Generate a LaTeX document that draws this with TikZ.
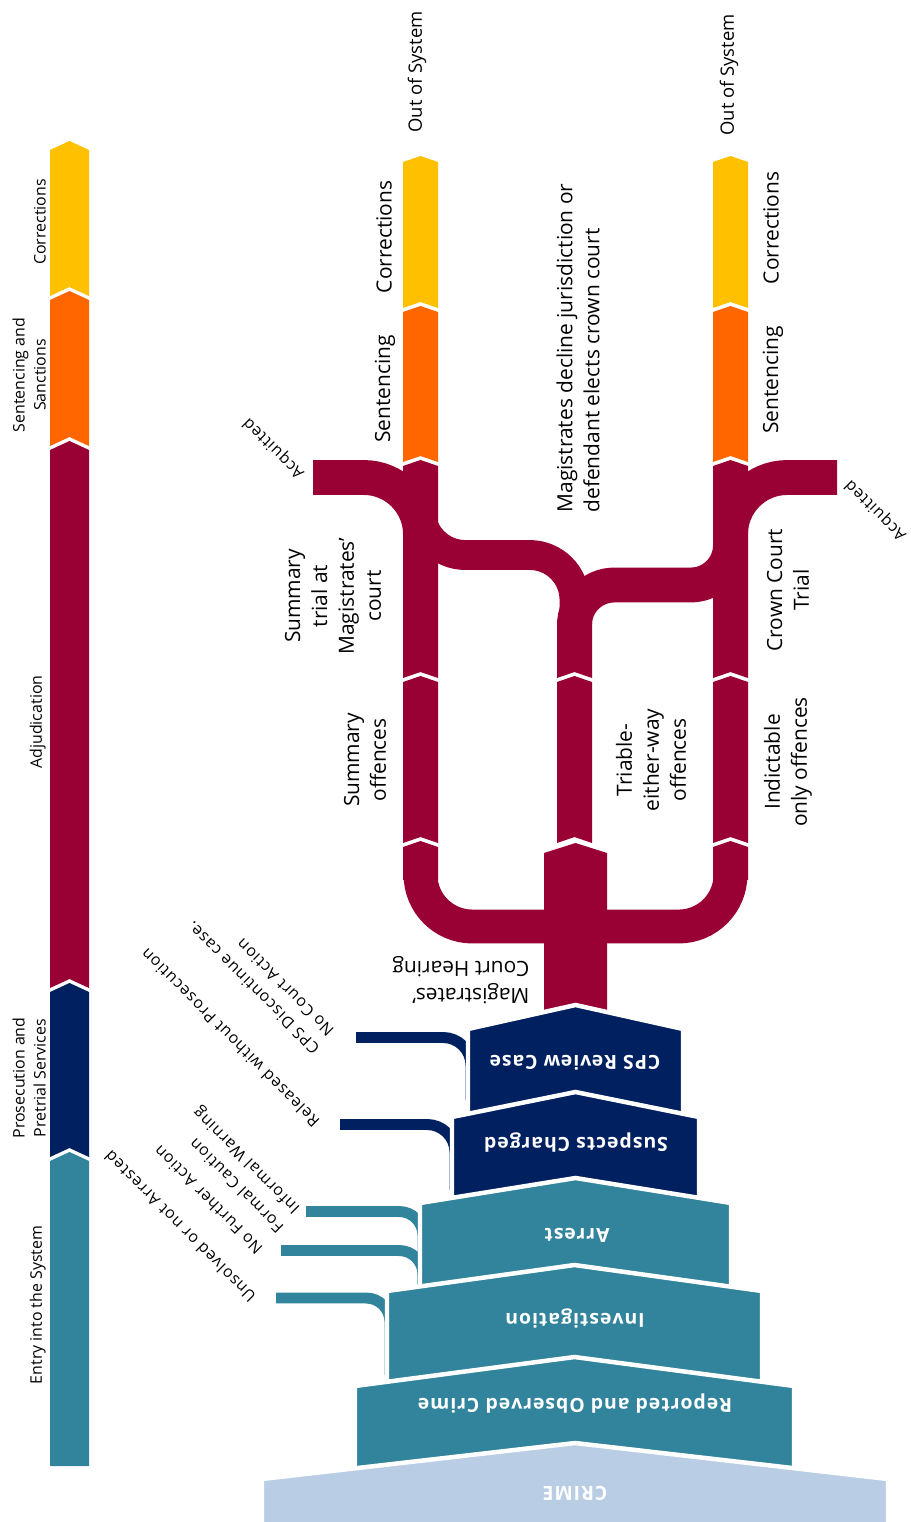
\documentclass[tikz,border=0pt]{standalone}
\usepackage{fontspec}
\setmainfont{Open Sans}
\newfontfamily\boxfont[LetterSpace=5]{Open Sans}
\newfontfamily\exitfont[LetterSpace=6]{Open Sans}

\definecolor{cjsteal}{HTML}{31849B}
\definecolor{cjsnavy}{HTML}{002060}
\definecolor{cjsmaroon}{HTML}{990033}
\definecolor{cjsorange}{HTML}{FF6600}
\definecolor{cjsyellow}{HTML}{FFC000}
\definecolor{cjscrime}{HTML}{B9CDE5}

% column piece: chevron top, notched bottom (colour, x1, x2, ytop, dtop, ybot, dbot)
\newcommand{\chevseg}[7]{%
  \fill[#1] (#2,#4) -- ({(#2+#3)/2},{#4-#5}) -- (#3,#4) -- (#3,#6)
    -- ({(#2+#3)/2},{#6-#7}) -- (#2,#6) -- cycle;}
% funnel stage with white rim (colour, x1, x2, ytop, depth, ybot)
\newcommand{\stage}[6]{%
  \filldraw[fill=#1,draw=white,line width=4.5] (#2,#4) -- ({(#2+#3)/2},{#4-#5})
    -- (#3,#4) -- (#3,#6) -- (#2,#6) -- cycle;}

\tikzset{
  phase/.style={rotate=90,anchor=south,align=center,inner sep=1,font=\fontsize{16}{21}\selectfont},
  flowlabel/.style={rotate=90,align=center,inner sep=0,font=\fontsize{21}{27}\selectfont},
  outsys/.style={rotate=90,inner sep=0,font=\fontsize{18.5}{22}\selectfont},
  exitlabel/.style={rotate=135,inner sep=0,font=\exitfont\fontsize{16}{20}\selectfont},
  stagetext/.style={rotate=180,text=white,inner sep=0,font=\boxfont\bfseries\fontsize{19.5}{22}\selectfont},
  exitbar/.style={line width=11,rounded corners=28},
  pipe/.style={cjsmaroon,line width=#1},
}

\begin{document}
\begin{tikzpicture}[x=1bp,y=-1bp]
\useasboundingbox (0,0) rectangle (910,1522);

% Phase bar on the left
\chevseg{cjsyellow}{50}{89}{150}{9}{296}{9}
\chevseg{cjsorange}{50}{89}{300}{9}{446}{9}
\chevseg{cjsmaroon}{50}{89}{450}{9}{988}{9}
\chevseg{cjsnavy}{50}{89}{992}{9}{1157}{9}
\chevseg{cjsteal}{50}{89}{1161}{9}{1466}{0}

% Corrections and sentencing columns
\chevseg{cjsyellow}{403}{438}{162}{6}{308}{6}
\chevseg{cjsorange}{403}{438}{312}{6}{462}{6}
\chevseg{cjsyellow}{713}{748}{162}{6}{308}{6}
\chevseg{cjsorange}{713}{748}{312}{6}{462}{6}

% Trials and acquittals
\coordinate (acqL) at (313,477.5);
\coordinate (acqR) at (837,477.5);
\coordinate (sumtrial) at (420.5,570);
\coordinate (crowntrial) at (730.5,570);
\draw[pipe=35,rounded corners=57] (acqL) -| (sumtrial);
\draw[pipe=35,rounded corners=57] (acqR) -| (crowntrial);
\chevseg{cjsmaroon}{403}{438}{466}{6}{678}{6}
\chevseg{cjsmaroon}{713}{748}{466}{6}{678}{6}

% Either-way split
\coordinate (splitL) at (420.5,495);
\coordinate (splitR) at (730.5,520);
\coordinate (eitherway) at (574.5,650);
\draw[pipe=30,rounded corners=45] (splitL) -- (420.5,555) -- (574.5,555) -- (eitherway);
\draw[pipe=35,rounded corners=40] (splitR) -- (730.5,585) -- (574.5,585) -- (eitherway);
\chevseg{cjsmaroon}{557}{592}{620}{0}{678}{6}

% Offence classes
\chevseg{cjsmaroon}{403}{438}{682}{6}{843}{6}
\chevseg{cjsmaroon}{557}{592}{682}{6}{843}{6}
\chevseg{cjsmaroon}{713}{748}{682}{6}{843}{6}

% Magistrates' court hearing
\chevseg{cjsmaroon}{403}{438}{847}{6}{880}{0}
\chevseg{cjsmaroon}{713}{748}{847}{6}{880}{0}
\coordinate (sumoff) at (420.5,860);
\coordinate (indoff) at (730.5,860);
\coordinate (hearing) at (575,926.5);
\draw[pipe=34,rounded corners=52] (sumoff) |- (hearing) -| (indoff);
\chevseg{cjsmaroon}{544}{607}{853}{10}{1020}{0}

% Funnel stages with their exits
\coordinate (nocourt) at (356,1037.5);
\coordinate (cpsjoin) at (471,1100);
\draw[exitbar,cjsnavy] (nocourt) -| (cpsjoin);
\stage{cjsnavy}{468}{683}{1029}{24}{1125}
\coordinate (released) at (340,1124.5);
\coordinate (chargedjoin) at (455,1190);
\draw[exitbar,cjsnavy] (released) -| (chargedjoin);
\stage{cjsnavy}{452}{699}{1117}{25}{1210}
\coordinate (warning) at (306,1211.5);
\coordinate (nfa) at (281,1250.5);
\coordinate (arrestjoin) at (423,1290);
\draw[exitbar,cjsteal,rounded corners=24] (warning) -| (arrestjoin);
\draw[exitbar,cjsteal,rounded corners=24] (nfa) -| (arrestjoin);
\stage{cjsteal}{420}{731}{1203}{25}{1300}
\coordinate (unsolved) at (276,1298);
\coordinate (investjoin) at (390,1375);
\draw[exitbar,cjsteal,rounded corners=24] (unsolved) -| (investjoin);
\stage{cjsteal}{387}{762}{1291}{26}{1395}
\stage{cjsteal}{355}{794}{1386}{29}{1490}
\stage{cjscrime}{262}{888}{1479}{36}{1535}

% Phase names
\node[phase] (phcorr) at (47,222) {Corrections};
\node[phase] (phsent) at (47,375) {Sentencing and\\Sanctions};
\node[phase] (phadj) at (47,722) {Adjudication};
\node[phase] (phpros) at (47,1078) {Prosecution and\\Pretrial Services};
\node[phase] (phentry) at (47,1305) {Entry into the System};

% Stage names
\node[stagetext] (tcps) at (575,1063) {CPS Review Case};
\node[stagetext] (tcharged) at (576,1143) {Suspects Charged};
\node[stagetext] (tarrest) at (577,1235) {Arrest};
\node[stagetext] (tinvest) at (575,1319) {Investigation};
\node[stagetext] (treported) at (575,1404) {Reported and Observed Crime};
\node[stagetext] (tcrime) at (575,1493) {CRIME};

% Flow labels
\node[outsys] (outL) at (417,72) {Out of System};
\node[outsys] (outR) at (729,75) {Out of System};
\node[flowlabel] (corrL) at (384,237) {Corrections};
\node[flowlabel] (corrR) at (771,228) {Corrections};
\node[flowlabel] (sentL) at (385,389) {Sentencing};
\node[flowlabel] (sentR) at (773,380) {Sentencing};
\node[flowlabel,align=left] (decline) at (578,348) {Magistrates decline jurisdiction or\\defendant elects crown court};
\node[flowlabel] (sumtrialtxt) at (333,596) {Summary\\trial at\\Magistrates’\\court};
\node[flowlabel] (crowntxt) at (788,590) {Crown Court\\Trial};
\node[flowlabel] (sumofftxt) at (365,760) {Summary\\offences};
\node[flowlabel] (eithertxt) at (651,760) {Triable-\\either-way\\offences};
\node[flowlabel] (indtxt) at (788,762) {Indictable\\only offences};
\node[flowlabel,rotate=90,align=left] (hearingtxt) at (461,980) {Magistrates’\\Court Hearing};

% Exit labels
\node[exitlabel] (acqLtxt) at (274,448) {Acquitted};
\node[exitlabel] (acqRtxt) at (876,510) {Acquitted};
\node[exitlabel] (nocourttxt) at (285,988) {No Court Action};
\node[exitlabel] (discontxt) at (253,988) {CPS Discontinue case.};
\node[exitlabel] (releasedtxt) at (230,1038) {Released without Prosecution};
\node[exitlabel] (warningtxt) at (247,1160) {Informal Warning};
\node[exitlabel] (cautiontxt) at (236,1186) {Formal Caution};
\node[exitlabel] (nfatxt) at (208,1200) {No Further Action};
\node[exitlabel] (unsolvedtxt) at (180,1227) {Unsolved or not Arrested};
\end{tikzpicture}
\end{document}
